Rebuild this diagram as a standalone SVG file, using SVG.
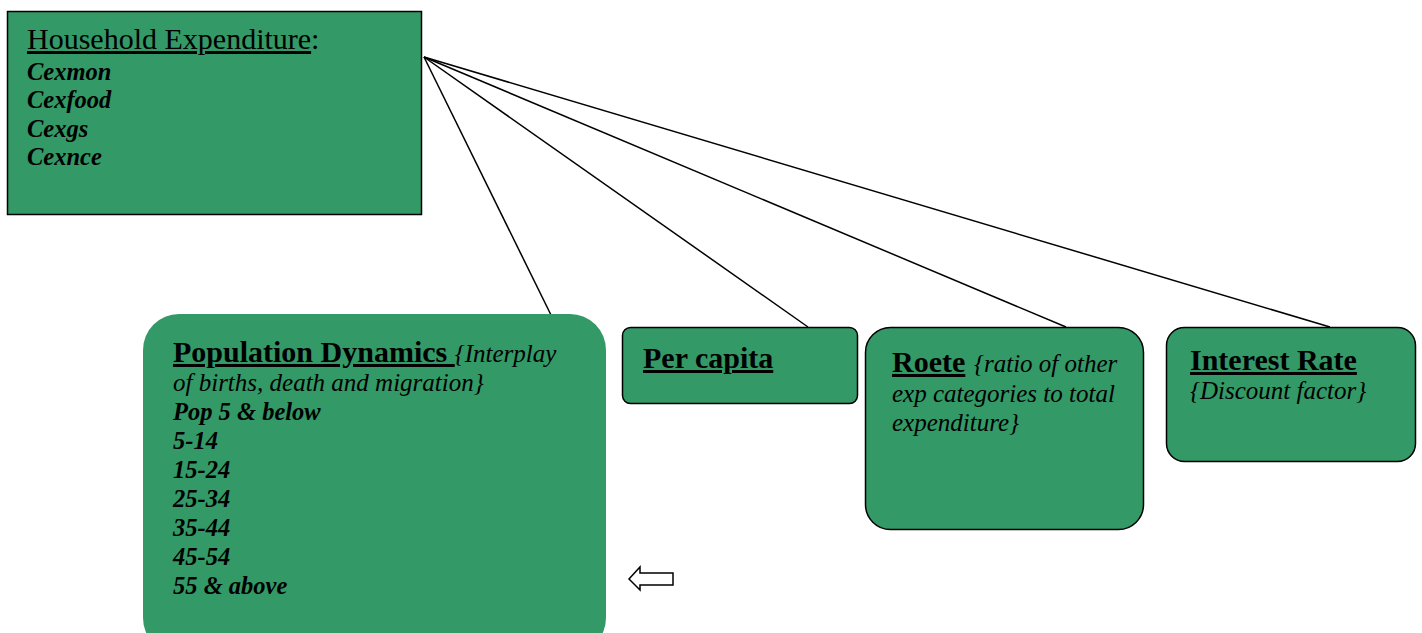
<svg xmlns="http://www.w3.org/2000/svg" width="1422" height="633" viewBox="0 0 1422 633">
<style>
.box{fill:#339966;stroke:#000;stroke-width:1.5}
.t{font-family:'Liberation Serif','Times New Roman',serif;fill:#000}
.reg{font-size:30px}
.bi{font-size:24.5px;font-weight:bold;font-style:italic}
.hd{font-size:30px;font-weight:bold;text-decoration:underline}
.it{font-size:25px;font-style:italic}
.conn line{stroke:#000;stroke-width:1.5}
</style>
<rect width="1422" height="633" fill="#fff"/>
<g class="conn">
<line x1="424" y1="57" x2="551" y2="315"/>
<line x1="424" y1="57" x2="808" y2="327"/>
<line x1="424" y1="57" x2="1066" y2="327"/>
<line x1="424" y1="57" x2="1330" y2="327"/>
</g>
<g id="household">
<rect class="box" x="7.5" y="11.5" width="414" height="203"/>
<text class="t reg" x="27" y="49"><tspan text-decoration="underline">Household Expenditure</tspan>:</text>
<text class="t bi" x="27" y="80">Cexmon</text>
<text class="t bi" x="27" y="108">Cexfood</text>
<text class="t bi" x="27" y="137">Cexgs</text>
<text class="t bi" x="27" y="165">Cexnce</text>
</g>
<g id="population">
<rect x="143" y="314" width="463" height="340" rx="36" fill="#339966"/>
<text class="t" x="173" y="362"><tspan class="hd">Population Dynamics </tspan><tspan class="it">{Interplay</tspan></text>
<text class="t it" x="173" y="391">of births, death and migration}</text>
<text class="t bi" x="173" y="420">Pop 5 &amp; below</text>
<text class="t bi" x="173" y="449">5-14</text>
<text class="t bi" x="173" y="478">15-24</text>
<text class="t bi" x="173" y="507">25-34</text>
<text class="t bi" x="173" y="536">35-44</text>
<text class="t bi" x="173" y="565">45-54</text>
<text class="t bi" x="173" y="594">55 &amp; above</text>
</g>
<g id="percapita">
<rect class="box" x="622.5" y="327.5" width="235" height="76" rx="8"/>
<text class="t hd" x="643" y="368">Per capita</text>
</g>
<g id="roete">
<rect class="box" x="865.5" y="327.5" width="278" height="202" rx="25"/>
<text class="t" x="892" y="372"><tspan class="hd">Roete</tspan><tspan class="it" x="974">{ratio of other</tspan></text>
<text class="t it" x="892" y="402">exp categories to total</text>
<text class="t it" x="892" y="431">expenditure}</text>
</g>
<g id="interest">
<rect class="box" x="1166.5" y="327.5" width="249" height="134" rx="18"/>
<text class="t hd" x="1190" y="370">Interest Rate</text>
<text class="t it" x="1190" y="399">{Discount factor}</text>
</g>
<g id="arrow">
<polygon points="629,579 640,567 640,573 673,573 673,585 640,585 640,590" fill="#fff" stroke="#000" stroke-width="1.5"/>
</g>
</svg>
